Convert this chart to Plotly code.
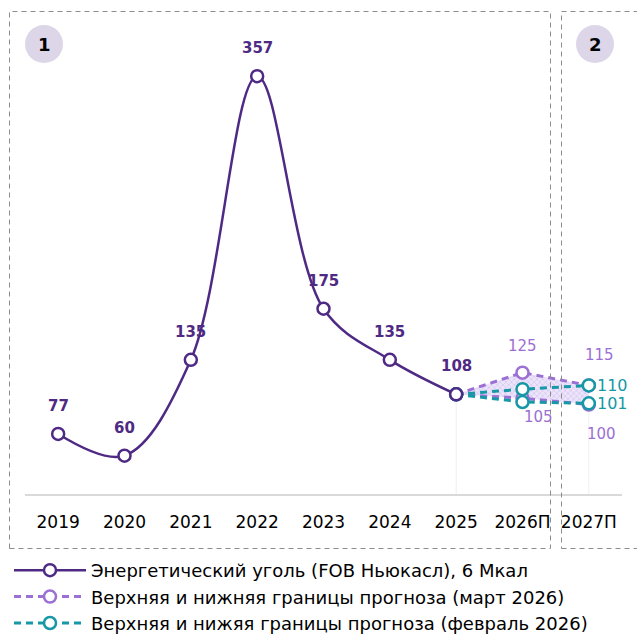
import plotly.graph_objects as go

# ---- data ----
years = ["2019", "2020", "2021", "2022", "2023", "2024", "2025", "2026П", "2027П"]
coal_years = ["2019", "2020", "2021", "2022", "2023", "2024", "2025"]
coal_values = [77, 60, 135, 357, 175, 135, 108]

fc_years = ["2025", "2026П", "2027П"]
march_upper = [108, 125, 115]
march_lower = [108, 105, 100]
feb_upper = [108, 112, 115]
feb_lower = [108, 102, 101]

march_upper_labels = ["", "125", "115"]
march_lower_labels = ["", "105", "100"]
feb_labels_2027 = ["110", "101"]

name_coal = "Энергетический уголь (FOB Ньюкасл), 6 Мкал"
name_march = "Верхняя и нижняя границы прогноза (март 2026)"
name_feb = "Верхняя и нижяя границы прогноза (февраль 2026)"

C_MAIN = "#4E2A84"
C_MARCH = "#9B6FD3"
C_FEB = "#1698A6"
FONT = "DejaVu Sans, Liberation Sans, Arial, sans-serif"

Y_MIN, Y_MAX = 30, 401

# layout geometry (pixels)
W, H = 637, 635
ML, MR, MT, MB = 25, 15, 20, 141
PW, PH = W - ML - MR, H - MT - MB


def px(x):
    return (x - ML) / PW


def py(y):
    return (MT + PH - y) / PH


def xi(cat):
    return years.index(cat)


fig = go.Figure()

fc_x = [xi(c) for c in fc_years]
coal_x = [xi(c) for c in coal_years]

# fill between March bounds
fig.add_trace(go.Scatter(x=fc_x, y=march_lower, mode="lines",
                         line=dict(width=0, color=C_MARCH), showlegend=False,
                         hoverinfo="skip"))
fig.add_trace(go.Scatter(x=fc_x, y=march_upper, mode="lines",
                         line=dict(width=0, color=C_MARCH), fill="tonexty",
                         fillcolor="rgba(225,214,245,0.8)",
                         fillpattern=dict(shape="x", fgcolor="#B89FE6",
                                          bgcolor="rgba(236,229,250,1)",
                                          size=4, solidity=0.3),
                         showlegend=False, hoverinfo="skip"))

# faint drop lines
for xv, yv in [(coal_x[-1], coal_values[-1]), (fc_x[-1], feb_lower[-1])]:
    fig.add_shape(type="line", xref="x", yref="y", x0=xv, x1=xv, y0=Y_MIN, y1=yv,
                  line=dict(color="#EFEFEF", width=1), layer="below")


def open_marker(color):
    return dict(symbol="circle", size=12, color="white", line=dict(width=2.5, color=color))


dash = "7px,5px"
# March bounds
fig.add_trace(go.Scatter(x=fc_x, y=march_upper, mode="lines+markers",
                         name=name_march, legendrank=2,
                         line=dict(color=C_MARCH, width=3, dash=dash),
                         marker=open_marker(C_MARCH)))
fig.add_trace(go.Scatter(x=fc_x, y=march_lower, mode="lines+markers",
                         name=name_march, showlegend=False,
                         line=dict(color=C_MARCH, width=3, dash=dash),
                         marker=open_marker(C_MARCH)))
# February bounds
fig.add_trace(go.Scatter(x=fc_x, y=feb_upper, mode="lines+markers",
                         name=name_feb, legendrank=3,
                         line=dict(color=C_FEB, width=3, dash=dash),
                         marker=open_marker(C_FEB)))
fig.add_trace(go.Scatter(x=fc_x, y=feb_lower, mode="lines+markers",
                         name=name_feb, showlegend=False,
                         line=dict(color=C_FEB, width=3, dash=dash),
                         marker=open_marker(C_FEB)))

# main coal line
fig.add_trace(go.Scatter(x=coal_x, y=coal_values, mode="lines+markers",
                         name=name_coal, legendrank=1,
                         line=dict(color=C_MAIN, width=2.5, shape="spline", smoothing=1),
                         marker=open_marker(C_MAIN)))

ann = []
for xv, yv in zip(coal_x, coal_values):
    ann.append(dict(x=xv, y=yv, text=str(yv), showarrow=False, yshift=28,
                    font=dict(family=FONT, size=15, color=C_MAIN, weight="bold")))
lab_font_m = dict(family=FONT, size=15, color=C_MARCH)
lab_font_f = dict(family=FONT, size=16, color=C_FEB)
# March labels
ann.append(dict(x=fc_x[1], y=march_upper[1], text=march_upper_labels[1], showarrow=False,
                yshift=27, font=lab_font_m))
ann.append(dict(x=fc_x[2], y=march_upper[2], text=march_upper_labels[2], showarrow=False,
                yshift=30, xshift=11, font=lab_font_m))
ann.append(dict(x=fc_x[1], y=march_lower[1], text=march_lower_labels[1], showarrow=False,
                yshift=-19, xshift=16, font=lab_font_m))
ann.append(dict(x=fc_x[2], y=march_lower[2], text=march_lower_labels[2], showarrow=False,
                yshift=-29, xshift=13, font=lab_font_m))
# February labels
ann.append(dict(x=fc_x[2], y=feb_upper[2], text=feb_labels_2027[0], showarrow=False,
                xanchor="left", xshift=6, font=lab_font_f))
ann.append(dict(x=fc_x[2], y=feb_lower[2], text=feb_labels_2027[1], showarrow=False,
                xanchor="left", xshift=6, font=lab_font_f))

# section badges
for label, cx in [("1", 44), ("2", 595)]:
    fig.add_shape(type="circle", xref="paper", yref="paper",
                  x0=px(cx - 19), x1=px(cx + 19), y0=py(63), y1=py(25),
                  fillcolor="#DCD6E8", line=dict(width=0))
    ann.append(dict(xref="paper", yref="paper", x=px(cx), y=py(44), text=label,
                    showarrow=False, xanchor="center", yanchor="middle",
                    font=dict(family=FONT, size=18, color="black", weight="bold")))

# dashed section boxes
box_line = dict(color="#8C8C8C", width=1, dash="5px,4px")
fig.add_shape(type="rect", xref="paper", yref="paper", x0=px(9.5), x1=px(550.5),
              y0=py(548.5), y1=py(11.5), line=box_line)
fig.add_shape(type="rect", xref="paper", yref="paper", x0=px(561.5), x1=px(660),
              y0=py(548.5), y1=py(11.5), line=box_line)

fig.update_layout(
    width=W, height=H,
    margin=dict(l=ML, r=MR, t=MT, b=MB, autoexpand=False),
    paper_bgcolor="white", plot_bgcolor="white",
    font=dict(family=FONT, color="black"),
    annotations=ann,
    showlegend=True,
    legend=dict(x=px(9), y=py(552), xanchor="left", yanchor="top",
                traceorder="normal",
                font=dict(family=FONT, size=18, color="black"),
                itemwidth=72, tracegroupgap=0, bgcolor="rgba(0,0,0,0)"),
    xaxis=dict(tickmode="array", tickvals=list(range(len(years))), ticktext=years,
               range=[-0.5, len(years) - 0.5], showgrid=False, zeroline=False,
               showline=True, linecolor="#D9D9D9", linewidth=2,
               ticks="", tickfont=dict(family=FONT, size=17, color="black"),
               ticklabelstandoff=12),
    yaxis=dict(range=[Y_MIN, Y_MAX], visible=False, showgrid=False, zeroline=False),
)

fig.write_html("out.html", config={"displayModeBar": False},
               post_script="document.body.style.margin='0';document.body.style.padding='0';")
